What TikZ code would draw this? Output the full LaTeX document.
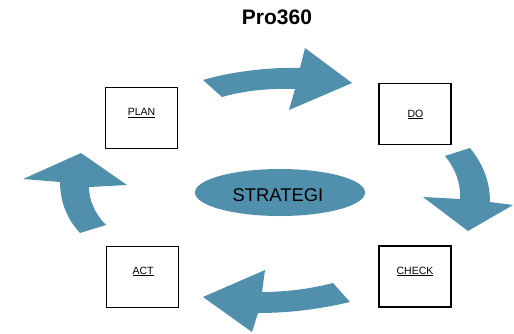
\documentclass[tikz,border=0pt]{standalone}
\usepackage{fontspec}
\setmainfont{Liberation Sans}
\definecolor{arrblue}{RGB}{81,144,173}
\begin{document}
\begin{tikzpicture}[x=1pt,y=-1pt,
  stepbox/.style={draw=black,line width=1.6pt,fill=white,minimum width=72pt,minimum height=61pt,inner sep=0pt},
  lbl/.style={font=\fontsize{10.5}{12}\selectfont,anchor=base,inner sep=0pt},
  bigarrow/.style={fill=arrblue,draw=none}]
\useasboundingbox (0,0) rectangle (514,333);
% title
\node[font=\fontsize{21}{24}\selectfont\bfseries,anchor=base,inner sep=0pt] (title) at (277,24.3) {Pro360};
% boxes
\node[stepbox] (plan) at (141.5,118) {};
\node[stepbox] (do) at (415,114) {};
\node[stepbox] (act) at (142.5,277) {};
\node[stepbox] (check) at (415,276.5) {};
\node[lbl] (planl) at (141.5,115.5) {\underline{PLAN}};
\node[lbl] (dol) at (415.5,117) {\underline{DO}};
\node[lbl] (actl) at (143,274) {\underline{ACT}};
\node[lbl] (checkl) at (415,274) {\underline{CHECK}};
% strategy ellipse
\fill[arrblue] (280,192.5) ellipse [x radius=85, y radius=23.5];
\node[font=\fontsize{18.4}{20}\selectfont,anchor=base,inner sep=0pt] (strat) at (278,201) {STRATEGI};
% curved arrows
\path[bigarrow] (203,80) .. controls (230,72) and (268,67) .. (300,68) -- (305,48) -- (352,83) -- (289,110) -- (295,89) .. controls (268,88) and (243,91) .. (222,97) -- cycle;
\path[bigarrow] (470,148) .. controls (482,163) and (490,180) .. (490,202) -- (513,205) -- (468,231) -- (423,197) -- (460,199) .. controls (461,183) and (455,168) .. (445,156) -- cycle;
\path[bigarrow] (333,283) .. controls (310,289) and (285,292) .. (262,292) -- (265,270) -- (203,297) -- (252,332) -- (258,313) .. controls (290,313) and (320,309) .. (350,302) -- cycle;
\path[bigarrow] (80,233) .. controls (66,218) and (60,200) .. (60,182) -- (23,179) -- (81,153) -- (127,185) -- (89,187) .. controls (89,200) and (95,214) .. (106,225) -- cycle;
\end{tikzpicture}
\end{document}
